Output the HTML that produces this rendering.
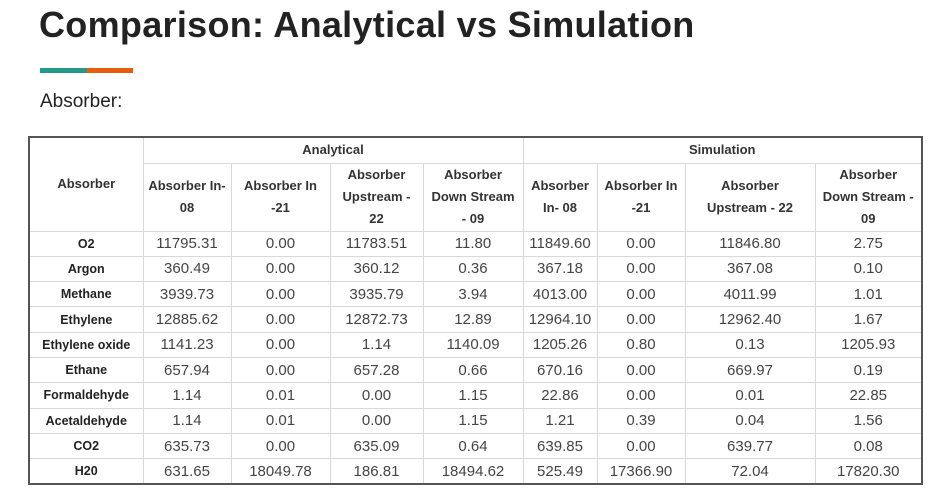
<!DOCTYPE html>
<html><head><meta charset="utf-8"><style>
body{margin:0;width:935px;height:496px;background:#fff;font-family:"Liberation Sans",sans-serif;position:relative;overflow:hidden}
#title{position:absolute;left:39px;top:4px;font-size:36px;font-weight:bold;color:#222;letter-spacing:0.3px}
#bar1{position:absolute;left:40px;top:68px;width:47px;height:5px;background:#22998a}
#bar2{position:absolute;left:87px;top:68px;width:46px;height:5px;background:#e85d0c}
#sub{position:absolute;left:40px;top:91px;font-size:19px;color:#222}
table{position:absolute;left:28px;top:136px;border-collapse:collapse;border:2px solid #555;table-layout:fixed}
td,th{border:1px solid #d8d8d8;text-align:center;padding:0;color:#333}
th{font-size:13px;font-weight:bold;line-height:22px}
td{font-size:15px;height:24.3px;color:#444}
td.n{font-weight:bold;font-size:12.5px;color:#222}
</style></head><body>
<div id="title">Comparison: Analytical vs Simulation</div>
<div id="bar1"></div>
<div id="bar2"></div>
<div id="sub">Absorber:</div>
<table>
<colgroup><col style="width:114px"><col style="width:88px"><col style="width:99px"><col style="width:93px"><col style="width:100px"><col style="width:74px"><col style="width:88px"><col style="width:130px"><col style="width:107px"></colgroup>
<thead>
<tr style="height:26px"><th rowspan="2">Absorber</th><th colspan="4">Analytical</th><th colspan="4">Simulation</th></tr>
<tr style="height:68px">
<th>Absorber In-<br>08</th>
<th>Absorber In<br>-21</th>
<th>Absorber<br>Upstream -<br>22</th>
<th>Absorber<br>Down Stream<br>- 09</th>
<th>Absorber<br>In- 08</th>
<th>Absorber In<br>-21</th>
<th>Absorber<br>Upstream - 22</th>
<th>Absorber<br>Down Stream -<br>09</th>
</tr></thead>
<tbody id="tb"></tbody></table>
<script>
const names=["O2","Argon","Methane","Ethylene","Ethylene oxide","Ethane","Formaldehyde","Acetaldehyde","CO2","H20"];
const analytical=[["11795.31","0.00","11783.51","11.80"],["360.49","0.00","360.12","0.36"],["3939.73","0.00","3935.79","3.94"],["12885.62","0.00","12872.73","12.89"],["1141.23","0.00","1.14","1140.09"],["657.94","0.00","657.28","0.66"],["1.14","0.01","0.00","1.15"],["1.14","0.01","0.00","1.15"],["635.73","0.00","635.09","0.64"],["631.65","18049.78","186.81","18494.62"]];
const simulation=[["11849.60","0.00","11846.80","2.75"],["367.18","0.00","367.08","0.10"],["4013.00","0.00","4011.99","1.01"],["12964.10","0.00","12962.40","1.67"],["1205.26","0.80","0.13","1205.93"],["670.16","0.00","669.97","0.19"],["22.86","0.00","0.01","22.85"],["1.21","0.39","0.04","1.56"],["639.85","0.00","639.77","0.08"],["525.49","17366.90","72.04","17820.30"]];
const tb=document.getElementById('tb');
names.forEach((n,i)=>{
 const tr=document.createElement('tr');
 
 
 const th=document.createElement('td');th.className='n';th.textContent=n;
 
 
 tr.appendChild(th);
 analytical[i].concat(simulation[i]).forEach(v=>{
  const td=document.createElement('td');td.textContent=v;
  
  
  tr.appendChild(td);
 });
 tb.appendChild(tr);
});
</script>
</body></html>
